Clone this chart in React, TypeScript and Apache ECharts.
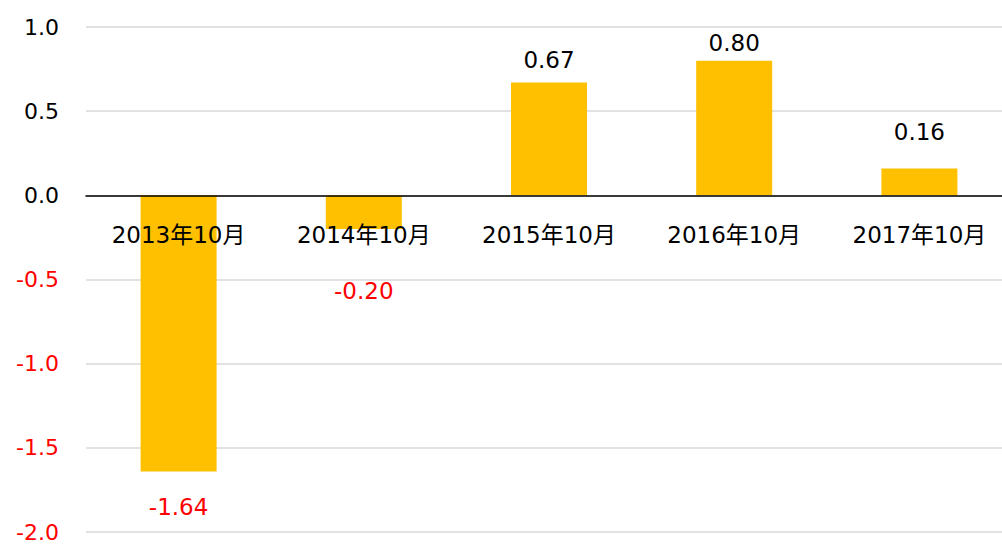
import React, { useEffect, useRef } from "react";
import * as echarts from "echarts";

const categories = ["2013年10月", "2014年10月", "2015年10月", "2016年10月", "2017年10月"];
const values = [-1.64, -0.2, 0.67, 0.8, 0.16];
const yTicks = { min: -2, max: 1, interval: 0.5 };

const FONT = "'DejaVu Sans', 'Noto Sans CJK JP', sans-serif";
const labelDistances = [24, 50, 11, 6, 25];

const GRID_TOP = 27;
const GRID_HEIGHT = 505;

export default function App() {
  const ref = useRef<HTMLDivElement>(null);
  useEffect(() => {
    if (!ref.current) return;
    const chart = echarts.init(ref.current, undefined, { renderer: "svg" });
    const zeroOffset = -(GRID_HEIGHT * (0 - yTicks.min)) / (yTicks.max - yTicks.min);
    chart.setOption({
      animation: false,
      backgroundColor: "#ffffff",
      grid: { left: 86, top: GRID_TOP, width: 926, height: GRID_HEIGHT, containLabel: false, outerBoundsMode: "none" },
      xAxis: {
        type: "category",
        data: categories,
        z: 5,
        offset: zeroOffset,
        axisLine: { onZero: false, lineStyle: { color: "#000000", width: 1.5 } },
        axisTick: { show: false },
        axisLabel: { color: "#000000", fontSize: 23, fontFamily: FONT, margin: 28 },
        splitLine: { show: false },
      },
      yAxis: {
        type: "value",
        min: yTicks.min,
        max: yTicks.max,
        interval: yTicks.interval,
        axisLine: { show: false },
        axisTick: { show: false },
        axisLabel: {
          fontSize: 22,
          fontFamily: FONT,
          margin: 27,
          formatter: (v: number) => v.toFixed(1),
          color: (v: any) => (Number(v) < 0 ? "#FF0000" : "#000000"),
        },
        splitLine: { lineStyle: { color: "#D9D9D9", width: 1.5 } },
      },
      series: [
        {
          type: "bar",
          barWidth: 76,
          data: values.map((v, i) => ({
            value: v,
            label: {
              show: true,
              position: v < 0 ? "bottom" : "top",
              distance: labelDistances[i],
              color: v < 0 ? "#FF0000" : "#000000",
            },
          })),
          itemStyle: { color: "#FFC000" },
          label: {
            show: true,
            fontSize: 23,
            fontFamily: FONT,
            formatter: (p: any) => Number(p.value).toFixed(2),
          },
        },
      ],
    });
    return () => chart.dispose();
  }, []);
  return (
    <div
      ref={ref}
      style={{ position: "fixed", left: 0, top: 0, width: 1002, height: 545, background: "#fff" }}
    />
  );
}
